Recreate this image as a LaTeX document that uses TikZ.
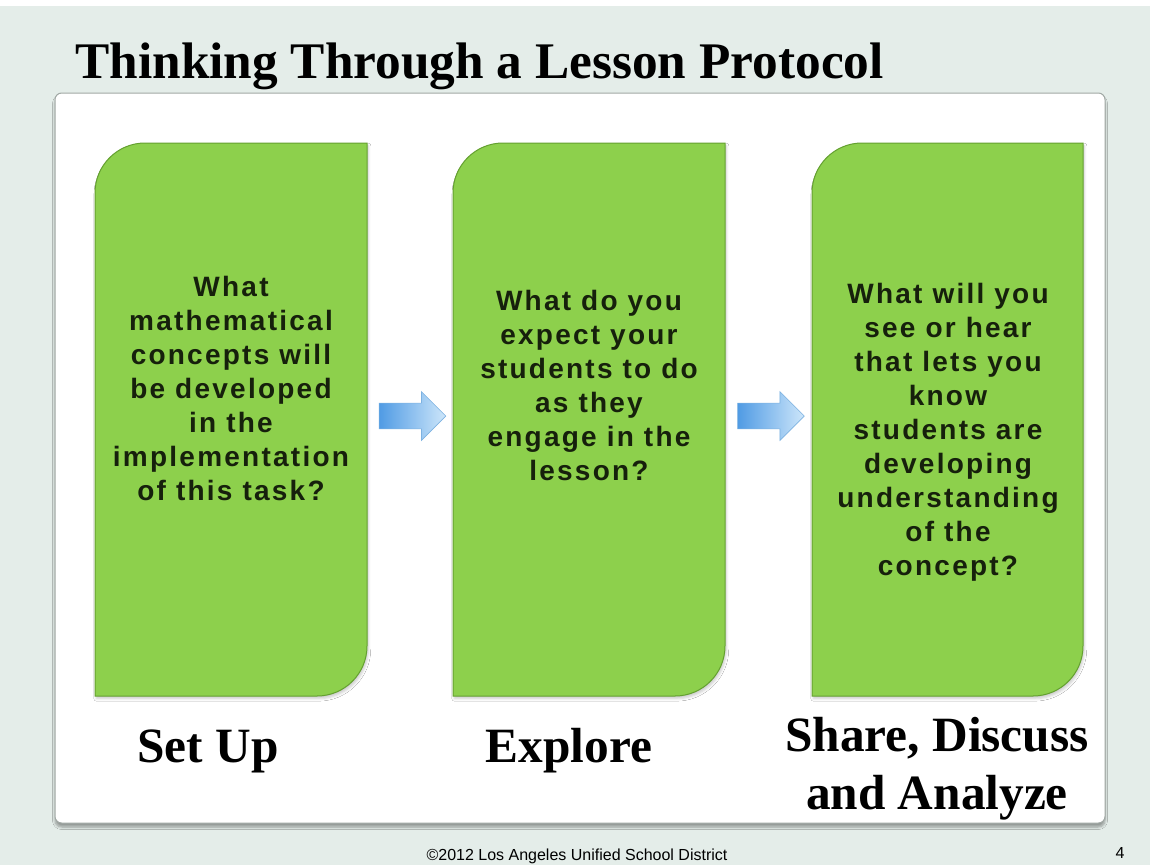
\documentclass[tikz,border=0pt]{standalone}
\usepackage{fontspec}
\setmainfont{Liberation Serif}
\newfontfamily\qfont[LetterSpace=8]{Liberation Sans}
\newfontfamily\footfont{Liberation Sans}
\usepackage{tikz}
\usetikzlibrary{positioning,calc}
\usetikzlibrary{shapes.arrows}
\usetikzlibrary{shadows.blur}
\tikzset{every picture/.style={line width=0.75pt}}

\definecolor{slidebg}{RGB}{228,237,233}
\definecolor{panelline}{RGB}{160,168,164}
\definecolor{leafgreen}{RGB}{141,208,76}
\definecolor{leafedge}{RGB}{100,160,48}
\definecolor{qink}{RGB}{22,32,12}
\definecolor{arrowdeep}{RGB}{80,155,228}
\definecolor{arrowpale}{RGB}{205,230,250}
\definecolor{arrowedge}{RGB}{125,178,225}

\tikzset{
  panel/.style={draw=panelline, fill=white, rounded corners=5pt,
    blur shadow={shadow xshift=0pt, shadow yshift=-3pt, shadow blur steps=6, shadow opacity=35}},
  greenbox/.style={draw=leafedge, fill=leafgreen,
    blur shadow={shadow xshift=1pt, shadow yshift=-2pt, shadow blur steps=4, shadow opacity=20}},
  qtext/.style={font=\qfont\bfseries\fontsize{21}{25.5}\selectfont, text=qink, align=center, inner sep=0.75pt},
  steplabel/.style={font=\bfseries\fontsize{37}{43}\selectfont, align=center, inner sep=0.75pt},
  flowarrow/.style={single arrow, draw=arrowedge, left color=arrowdeep, right color=arrowpale,
    minimum height=50pt, minimum width=36pt, single arrow head extend=8.6pt,
    inner xsep=0pt, inner ysep=9.4pt, text height=0pt, text depth=0pt, line width=0.5pt},
}

\begin{document}
\begin{tikzpicture}[x=0.75pt,y=0.75pt,yscale=-1,xscale=1]
\useasboundingbox (0,0) rectangle (1150,865);

%Background
\fill[slidebg] (0,0) rectangle (1150,865);
\fill[white] (0,0) rectangle (1150,6);

%Shape: Panel
\path[panel] (55,93) rectangle (1105,823);

%Shape: Green box 1
\path[greenbox] (95,193) .. controls (95,165.4) and (117.4,143) .. (145,143) -- (367,143) -- (367,646) .. controls (367,673.6) and (344.6,696) .. (317,696) -- (95,696) -- cycle ;
%Shape: Green box 2
\path[greenbox] (453,193) .. controls (453,165.4) and (475.4,143) .. (503,143) -- (725,143) -- (725,646) .. controls (725,673.6) and (702.6,696) .. (675,696) -- (453,696) -- cycle ;
%Shape: Green box 3
\path[greenbox] (812,193) .. controls (812,165.4) and (834.4,143) .. (862,143) -- (1083,143) -- (1083,646) .. controls (1083,673.6) and (1060.6,696) .. (1033,696) -- (812,696) -- cycle ;

% box edges for the arrows
\coordinate (b1e) at (367,416);
\coordinate (b2w) at (453,416);
\coordinate (b2e) at (725,416);
\coordinate (b3w) at (812,416);

% Title
\node[font=\bfseries\fontsize{38.5}{44}\selectfont, anchor=base west, inner sep=0.75pt] (title) at (74,78) {Thinking Through a Lesson Protocol};

% Questions
\node[qtext] (q1) at (231,388) {What\\mathematical\\concepts will\\be developed\\in the\\implementation\\of this task?};
\node[qtext] (q2) at (589,385) {What do you\\expect your\\students to do\\as they\\engage in the\\lesson?};
\node[qtext] (q3) at (948,432) {What will you\\see or hear\\that lets you\\know\\students are\\developing\\understanding\\of the\\concept?};

% Arrows
\node[flowarrow, xshift=-3pt] (a1) at ($(b1e)!0.5!(b2w)$) {};
\node[flowarrow, xshift=-3pt] (a2) at ($(b2e)!0.5!(b3w)$) {};

% Step labels
\node[steplabel, anchor=base] (setup) at (208,762) {Set Up};
\node[steplabel, anchor=base] (explore) at (569,762) {Explore};
\node[steplabel, anchor=north] (share) at (937,716) {Share, Discuss\\and Analyze};

% Footer
\node[font=\footfont\fontsize{12}{14}\selectfont, anchor=base, inner sep=0.75pt] (foot) at (577,860) {©2012 Los Angeles Unified School District};
\node[font=\footfont\fontsize{12}{14}\selectfont, anchor=base, inner sep=0.75pt] (page) at (1120,858) {4};

\end{tikzpicture}
\end{document}
